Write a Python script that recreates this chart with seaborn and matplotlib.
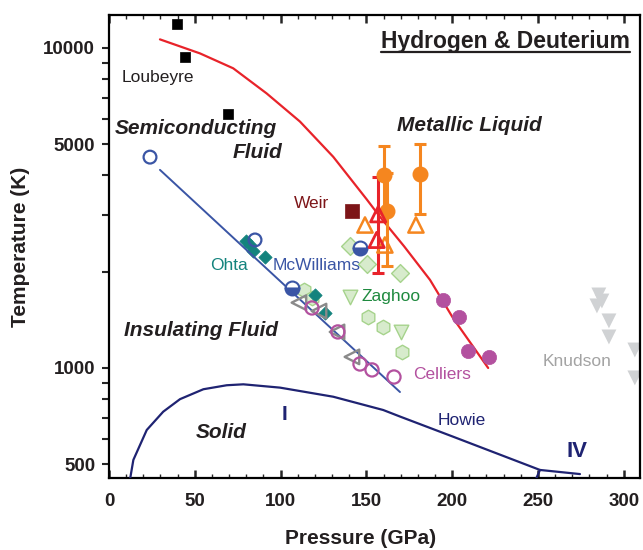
import numpy as np
import pandas as pd
import matplotlib
matplotlib.use("Agg")
import matplotlib.pyplot as plt
import seaborn as sns
from matplotlib.ticker import FixedLocator, FixedFormatter, NullFormatter, MultipleLocator
from matplotlib.lines import Line2D

sns.set_theme(style="ticks")
plt.rcParams['font.family'] = ['Liberation Sans', 'DejaVu Sans']

# ---------------- data (pressure GPa, temperature K) ----------------
red_P = [29.7, 53.0, 72.4, 91.9, 111.3, 130.7, 150.2, 157.9, 172.0, 187.1, 200.6, 221.0]
red_T = [10640, 9620, 8640, 7210, 5890, 4570, 3365, 2970, 2400, 1885, 1430, 1000]

fit_P = [29.7, 169.6]
fit_T = [4160, 841]

howie_P = [12.2, 14.2, 22.0, 31.6, 41.4, 55.0, 68.6, 78.3, 99.7, 130.7, 159.8, 169.6, 200.5, 251.2, 274.5]
howie_T = [447, 516, 640, 730, 799, 858, 883, 889, 868, 813, 739, 705, 610, 480, 466]
iv_P = [251.2, 248.5]
iv_T = [480, 445]

loubeyre_P = [39.6, 44.3, 69.3]
loubeyre_T = [11890, 9370, 6220]

weir_P = [141.4]
weir_T = [3100]

mcw_open_P = [23.9, 85.1]
mcw_open_T = [4560, 2512]
mcw_half_P = [146.3, 106.5]
mcw_half_T = [2366, 1775]

ohta_P = [80.0, 82.0, 83.9, 90.9, 120.0, 125.9]
ohta_T = [2490, 2420, 2321, 2224, 1691, 1486]

gray_P = [110.7, 122.4, 132.9, 141.6]
gray_T = [1600, 1506, 1296, 1083]

cel_open_P = [118.3, 133.4, 146.3, 153.3, 166.1]
cel_open_T = [1540, 1296, 1029, 986, 937]
cel_fill_P = [194.5, 204.1, 209.4, 221.4]
cel_fill_T = [1631, 1446, 1133, 1080]

zag_dia_P = [140.4, 150.3, 169.6]
zag_dia_T = [2406, 2113, 1982]
zag_hex_P = [113.6, 118.3, 150.9, 159.7, 170.7]
zag_hex_T = [1754, 1656, 1443, 1343, 1122]
zag_tri_P = [140.4, 170.2]
zag_tri_T = [1667, 1296]

knud_P = [285.5, 287.3, 284.4, 291.4, 291.4, 306.5, 306.5]
knud_T = [1691, 1619, 1563, 1403, 1250, 1138, 931]

orng_P = [160.4, 162.2, 181.2]
orng_T = [4009, 3097, 4040]
orng_err_lo = [950, 1020, 1010]
orng_err_hi = [930, 960, 960]

orng_tri_P = [149.2, 178.9, 160.8]
orng_tri_T = [2798, 2798, 2423]

red_tri_P = [156.9, 156.0]
red_tri_T = [3022, 2512]
red_err_P = [156.9]
red_err_T = [3022]
red_err_lo = [1037]
red_err_hi = [940]

y_major = [500, 1000, 5000, 10000]
y_minor = [600, 700, 800, 900, 2000, 3000, 4000, 6000, 7000, 8000, 9000]
x_major = [0, 50, 100, 150, 200, 250, 300]

# ---------------- colours ----------------
RED = "#e8232a"
NAVY = "#1f2372"
BLUE = "#3a55a5"
ORANGE = "#f5861f"
TEAL = "#13837d"
MAG = "#b3519f"
GFACE = "#d7ebcc"
GEDGE = "#a6d38c"
GRAY = "#8a8a8a"
KGRAY = "#d0d2d4"
DARK = "#231f20"

fig = plt.figure(figsize=(6.43, 5.5), dpi=100)
ax = fig.add_axes([109/643, 72/550, 531/643, 463/550])
ax.set_yscale("log")

def sc(P, T, **kw):
    sns.scatterplot(x=P, y=T, ax=ax, legend=False, **kw)

# light green (Zaghoo) symbols at the back
sc(zag_dia_P, zag_dia_T, marker="D", s=82, color=GEDGE, facecolor=GFACE, edgecolor=GEDGE, linewidth=1.0, zorder=2)
sc(zag_hex_P, zag_hex_T, marker="h", s=110, color=GEDGE, facecolor=GFACE, edgecolor=GEDGE, linewidth=1.0, zorder=2)
sc(zag_tri_P, zag_tri_T, marker="v", s=110, color=GEDGE, facecolor=GFACE, edgecolor=GEDGE, linewidth=1.0, zorder=2)

# Knudson
sc(knud_P, knud_T, marker="v", s=115, color=KGRAY, edgecolor="none", linewidth=0, zorder=2)

# curves
sns.lineplot(x=red_P, y=red_T, ax=ax, sort=False, estimator=None, color=RED, linewidth=1.6, zorder=4)
sns.lineplot(x=fit_P, y=fit_T, ax=ax, sort=False, estimator=None, color=BLUE, linewidth=1.4, zorder=4)
sns.lineplot(x=howie_P, y=howie_T, ax=ax, sort=False, estimator=None, color=NAVY, linewidth=1.6, zorder=4)
sns.lineplot(x=iv_P, y=iv_T, ax=ax, sort=False, estimator=None, color=NAVY, linewidth=1.6, zorder=4)

# Ohta
sc(ohta_P, ohta_T, marker="D", s=46, color=TEAL, edgecolor=TEAL, linewidth=0.5, zorder=3)
# gray triangles
sc(gray_P, gray_T, marker="<", s=110, color=GRAY, facecolor="none", edgecolor=GRAY, linewidth=1.7, zorder=5)
# Celliers
sc(cel_open_P, cel_open_T, marker="o", s=90, color=MAG, facecolor="none", edgecolor=MAG, linewidth=1.6, zorder=5)
sc(cel_fill_P, cel_fill_T, marker="o", s=105, color=MAG, edgecolor=MAG, linewidth=0.5, zorder=5)
# Loubeyre
sc(loubeyre_P, loubeyre_T, marker="s", s=58, color="black", edgecolor="black", linewidth=0.5, zorder=5)
# Weir
sc(weir_P, weir_T, marker="s", s=92, color="#7d1518", edgecolor="#7d1518", linewidth=0.5, zorder=5)
# McWilliams
sc(mcw_open_P, mcw_open_T, marker="o", s=85, color=BLUE, facecolor="none", edgecolor=BLUE, linewidth=1.6, zorder=5)
ax.plot(mcw_half_P, mcw_half_T, linestyle="none", marker="o", markersize=10, fillstyle="bottom",
        markerfacecolor=BLUE, markerfacecoloralt="white", markeredgecolor=BLUE, markeredgewidth=1.5, zorder=5)

# orange and red error-bar data
ax.errorbar(orng_P, orng_T, yerr=[orng_err_lo, orng_err_hi], fmt="o", color=ORANGE, ecolor=ORANGE,
            markersize=10.5, elinewidth=2.2, capsize=4, capthick=2.2, zorder=6)
ax.errorbar(red_err_P, red_err_T, yerr=[red_err_lo, red_err_hi], fmt="none", ecolor=RED,
            elinewidth=2.2, capsize=4, capthick=2.2, zorder=6)
sc(orng_tri_P, orng_tri_T, marker="^", s=120, color=ORANGE, facecolor="none", edgecolor=ORANGE, linewidth=1.8, zorder=7)
sc(red_tri_P, red_tri_T, marker="^", s=120, color=RED, facecolor="none", edgecolor=RED, linewidth=2.0, zorder=7)

# ---------------- axes styling ----------------
ax.set_xlim(0, 309.5)
ax.set_ylim(453, 12680)
ax.yaxis.set_major_locator(FixedLocator(y_major))
ax.yaxis.set_major_formatter(FixedFormatter([str(v) for v in y_major]))
ax.yaxis.set_minor_locator(FixedLocator(y_minor))
ax.yaxis.set_minor_formatter(NullFormatter())
ax.xaxis.set_major_locator(FixedLocator(x_major))
ax.xaxis.set_minor_locator(MultipleLocator(10))

for s in ax.spines.values():
    s.set_visible(True)
    s.set_linewidth(1.6)
    s.set_color("black")

ax.tick_params(axis="y", which="both", direction="out", length=5, width=1.5, left=True, right=False,
               labelsize=13.5, pad=5)
ax.tick_params(axis="x", which="major", direction="in", length=6, width=1.8, top=True, bottom=True,
               labelsize=13.5, pad=11)
ax.tick_params(axis="x", which="minor", direction="in", length=3, width=1.0, top=True, bottom=True)
for lab in ax.get_xticklabels() + ax.get_yticklabels():
    lab.set_fontweight("bold")
    lab.set_color(DARK)
ax.set_xlabel("")
ax.set_ylabel("")

fig.text(361/643, 1 - 538/550, "Pressure (GPa)", ha="center", va="center", fontsize=15,
         fontweight="bold", color=DARK)
fig.text(21/643, 1 - 247/550, "Temperature (K)", ha="center", va="center", rotation=90,
         fontsize=15, fontweight="bold", color=DARK)

# ---------------- annotations ----------------
def bi(x, y, t):
    ax.text(x, y, t, ha="center", va="center", fontsize=15, fontweight="bold", style="italic", color=DARK, zorder=8)

bi(50.4, 5585, "Semiconducting")
bi(86.5, 4699, "Fluid")
bi(209.8, 5744, "Metallic Liquid")
bi(53.5, 1308, "Insulating Fluid")
bi(65.3, 627, "Solid")

def lab(x, y, t, c):
    ax.text(x, y, t, ha="center", va="center", fontsize=12.5, color=c, zorder=8)

lab(28.6, 8075, "Loubeyre", DARK)
lab(118.3, 3255, "Weir", "#7d1518")
lab(69.9, 2089, "Ohta", TEAL)
lab(121.0, 2089, "McWilliams", BLUE)
lab(164.3, 1671, "Zaghoo", "#1f8a3f")
lab(194.1, 955, "Celliers", MAG)
lab(273.0, 1047, "Knudson", "#a3a3a3")
lab(205.7, 684, "Howie", NAVY)

ax.text(102.3, 713, "I", ha="center", va="center", fontsize=15, fontweight="bold", color=NAVY)
ax.text(272.7, 548, "IV", ha="center", va="center", fontsize=16, fontweight="bold", color=NAVY)

title = ax.text(231.2, 10516, "Hydrogen & Deuterium", ha="center", va="center", fontsize=16.5,
                fontweight="bold", color=DARK, zorder=8)

fig.canvas.draw()
bb = title.get_window_extent(renderer=fig.canvas.get_renderer())
uy = 1 - 51.7/550
fig.add_artist(Line2D([bb.x0/643, bb.x1/643], [uy, uy], color=DARK, linewidth=1.6))

fig.savefig("out.png", dpi=100)
